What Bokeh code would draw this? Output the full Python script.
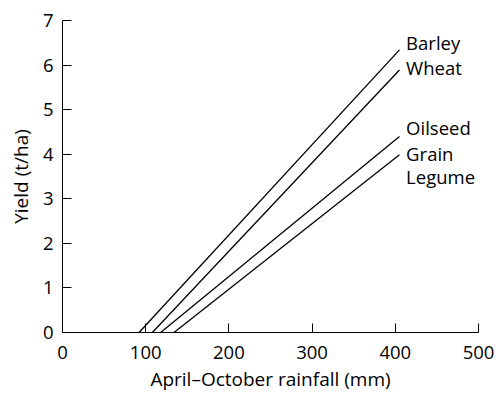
from bokeh.plotting import figure
from bokeh.models import Range1d, FixedTicker, ColumnDataSource
from bokeh.embed import file_html
from bokeh.resources import INLINE
from bokeh.core.properties import value

# Data
crops = ["Barley", "Wheat", "Oilseed", "Legume"]
rain_start = [92, 108, 118, 134]      # mm where yield = 0
rain_end = [405, 405, 405, 405]       # mm at line end
yield_start = [0, 0, 0, 0]
yield_end = [6.34, 5.89, 4.40, 3.99]  # t/ha at line end

label_texts = ["Barley", "Wheat", "Oilseed", "Grain", "Legume"]
label_x = [413, 413, 413, 413, 413]
label_y = [6.50, 5.95, 4.60, 4.01, 3.50]

x_ticks = [0, 100, 200, 300, 400, 500]
y_ticks = [0, 1, 2, 3, 4, 5, 6, 7]

FONT = "Open Sans"
FS = "18.5px"

p = figure(width=496, height=394, output_backend="svg", toolbar_location=None,
           x_range=Range1d(0, 500), y_range=Range1d(0, 7),
           min_border_left=62, min_border_right=18, min_border_top=20, min_border_bottom=62)

p.outline_line_color = None
p.xgrid.visible = False
p.ygrid.visible = False

src = ColumnDataSource(dict(x0=rain_start, x1=rain_end, y0=yield_start, y1=yield_end))
p.segment(x0="x0", y0="y0", x1="x1", y1="y1", source=src, line_color="black", line_width=1.3)

lsrc = ColumnDataSource(dict(x=label_x, y=label_y, t=label_texts))
p.text(x="x", y="y", text="t", source=lsrc, text_font=value(FONT), text_font_size=FS,
       text_baseline="middle", text_align="left", text_color="black")

for ax, ticks in ((p.xaxis[0], x_ticks), (p.yaxis[0], y_ticks)):
    ax.ticker = FixedTicker(ticks=ticks)
    ax.major_tick_in = 9
    ax.major_tick_out = 0
    ax.minor_tick_line_color = None
    ax.axis_line_color = "black"
    ax.major_tick_line_color = "black"
    ax.major_label_text_font = FONT
    ax.major_label_text_font_size = "18.5px"
    ax.major_label_text_color = "black"
    ax.axis_label_text_font = FONT
    ax.axis_label_text_font_size = "19px"
    ax.axis_label_text_font_style = "normal"
    ax.axis_label_text_color = "black"

p.xaxis.axis_label = "April–October rainfall (mm)"
p.yaxis.axis_label = "Yield (t/ha)"
p.xaxis.major_label_standoff = 13
p.yaxis.major_label_standoff = 9
p.xaxis.axis_label_standoff = 4
p.yaxis.axis_label_standoff = 6

open("out.html", "w").write(file_html(p, INLINE))
